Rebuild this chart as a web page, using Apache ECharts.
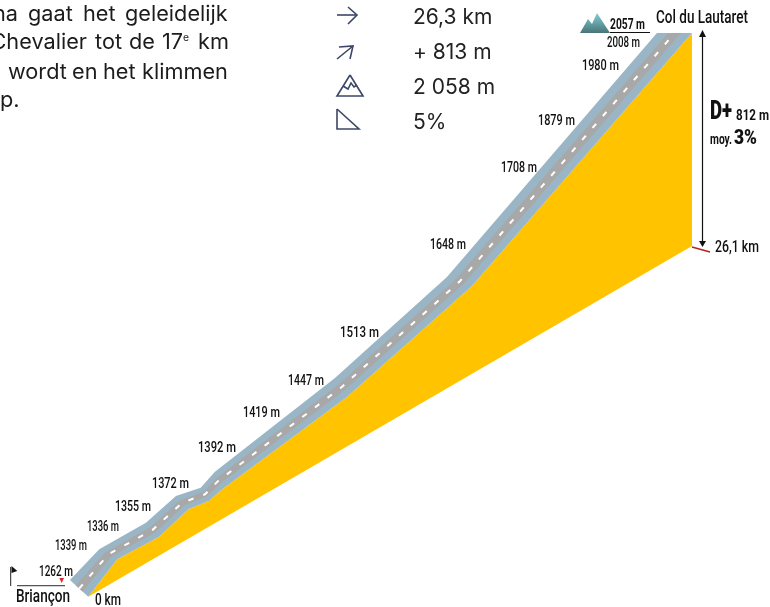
<!DOCTYPE html>
<html><head><meta charset="utf-8">
<style>html,body{margin:0;padding:0;background:#fff}#c{width:770px;height:607px}</style>
<script src="https://cdn.jsdelivr.net/npm/echarts@6/dist/echarts.min.js"></script></head>
<body><div id="c"></div>
<script>
// road ribbon: distance (km) and drawn height (m) of both edges
const upperKm = [-0.778,0.488,2.506,3.802,4.870,5.487,10.672,15.512,24.585];
const upperHeight = [64.9,182.1,283.6,385.5,417.2,478.2,835.9,1221.4,2152.7];
const lowerKm = [0.013,1.266,3.081,4.334,5.241,5.747,11.191,16.592,26.097];
const lowerHeight = [1.1,143.9,230.2,334.7,367.6,407.3,763.4,1187.0,2152.7];
// altitude labels
const labelText = ['1262 m','1339 m','1336 m','1355 m','1372 m','1392 m','1419 m','1447 m','1513 m','1648 m','1708 m','1879 m','1980 m','2008 m'];
const labelKm = [-0.648,-0.043,1.339,2.722,4.364,6.395,8.296,10.197,12.573,16.333,19.400,21.042,22.943,23.851];
const labelHeight = [95.4,194.7,267.2,343.5,431.3,568.7,702.3,824.4,1007.6,1343.5,1637.4,1816.8,2026.7,2114.5];
const labelWide = [34,32,32,36,37,38,37,36,39,36,36,37,37,33];
const totalKm = 26.1, baseHeightEnd = 1340;
const statText = ['26,3 km','+ 813 m','2 058 m','5%'];
const laneFrom = 0.32, laneTo = 0.69;

const narrow = 'Roboto,sans-serif';
const body = 'Inter,sans-serif';
const upper = upperKm.map((k,i)=>[k,upperHeight[i]]);
const lower = lowerKm.map((k,i)=>[k,lowerHeight[i]]);
const lerp = f => upper.map((u,i)=>[u[0]+(lower[i][0]-u[0])*f,u[1]+(lower[i][1]-u[1])*f]);
const laneA = lerp(laneFrom), laneB = lerp(laneTo), centre = lerp((laneFrom+laneTo)/2);
const ribbon = upper.concat(lower.slice().reverse());
const lane = laneA.concat(laneB.slice().reverse());
const yellow = lower.concat([[totalKm,baseHeightEnd]]);

const mctx = document.createElement('canvas').getContext('2d');
function fit(text,size,weight,w){mctx.font=(weight||'normal')+' '+size+'px Roboto';return w/mctx.measureText(text).width;}
function t(text,x,y,size,o,scale){return {type:'text',silent:true,z:20,x:x,y:y,scaleX:scale||1,style:Object.assign({text:text,fontFamily:narrow,fontSize:size,fill:'#111',textVerticalAlign:'middle',textAlign:'left'},o||{})};}
function n(text,x,y,size,w,weight){return t(text,x,y,size,{fontWeight:weight||500},fit(text,size,weight||500,w));}
function b(text,x,y,o){return t(text,x,y,21,Object.assign({fontFamily:body,fill:'#1c1c1c'},o||{}),1.033);}
function pl(points,shape){return {type:'polyline',silent:true,z:20,shape:{points:points},style:Object.assign({stroke:'#3c4668',lineWidth:1.6,fill:null},shape||{})};}

const graphic = [
 b('na',18,15,{textAlign:'right'}),b('gaat',28,15),b('het',83,15),b('geleidelijk',125,15),
 b('Chevalier',87,43,{textAlign:'right'}),b('tot',95,43),b('de',129,43),b('17',162,43),b('e',183,38,{fontSize:10}),b('km',198,43),
 b('s',1,73,{textAlign:'right'}),b('wordt',8,73),b('en',72,73),b('het',103,73),b('klimmen',142,73),
 b('p.',0,101),
 pl([[337,15],[357,15]]),pl([[348,7],[357,15],[348,24]]),
 pl([[337,59],[353,46]]),pl([[339,47],[353,46],[350,59]]),
 pl([[350,75],[337,96],[363,96],[350,75]]),pl([[343,86],[348,89],[351,83],[354,87],[357,85]]),
 pl([[337,109],[337,129],[359,129],[337,109]]),
 t(statText[0],413,18,21,{fontFamily:body,fill:'#222'}),
 t(statText[1],413,53,21,{fontFamily:body,fill:'#222'}),
 t(statText[2],413,88,21,{fontFamily:body,fill:'#222'}),
 t(statText[3],413,123,21,{fontFamily:body,fill:'#222'}),
 {type:'polygon',silent:true,z:20,shape:{points:[[580,33],[588,19],[592,24],[597,13],[610,33]]},
  style:{fill:{type:'linear',x:0,y:0,x2:0,y2:1,colorStops:[{offset:0,color:'#7fd0d4'},{offset:1,color:'#4a7478'}]}}},
 n('2057 m',610,25,14,35,'bold'),
 pl([[610,32.5],[650,32.5]],{stroke:'#111',lineWidth:1}),
 n('Col du Lautaret',656,18,19,92),
 pl([[702.5,35],[702.5,243]],{stroke:'#111',lineWidth:1.2}),
 {type:'polygon',silent:true,z:20,shape:{points:[[702.5,30],[699,37],[706,37]]},style:{fill:'#111'}},
 {type:'polygon',silent:true,z:20,shape:{points:[[702.5,247],[699,241],[706,241]]},style:{fill:'#111'}},
 pl([[692,247],[710,252]],{stroke:'#b3231f',lineWidth:1.5}),
 n('26,1 km',715,248,16,44),
 n('D+',710,113,25,22,900),
 n('812 m',736,116,15,33,'bold'),
 n('moy.',710,140,14,22,'bold'),
 n('3%',734,139,20,23,900),
 pl([[10.7,567],[10.7,586]],{stroke:'#222',lineWidth:1}),
 {type:'polygon',silent:true,z:20,shape:{points:[[11.5,566],[17.3,571],[11.5,573]]},style:{fill:'#111'}},
 pl([[17,585.7],[65,585.7]],{stroke:'#555',lineWidth:1.3}),
 {type:'polygon',silent:true,z:20,shape:{points:[[59.3,578],[64,578],[61.7,583]]},style:{fill:'#e3262e'}},
 n('Briançon',16,597,18,54),
 n('0 km',95,601,16,26)
];

function single(draw,data,z){return {type:'custom',z:z,silent:true,clip:false,data:data,encode:{x:0,y:1},
  renderItem:function(p,api){return p.dataIndex===0?draw(api):null;}};}
const chart = echarts.init(document.getElementById('c'),null,{renderer:'canvas'});
chart.setOption({
 animation:false,
 backgroundColor:'#fff',
 grid:{left:0,right:0,top:33,bottom:0},
 xAxis:{type:'value',min:-3.80,max:29.47,show:false},
 yAxis:{type:'value',min:-38,max:2153,show:false},
 graphic:graphic,
 series:[
  single(api=>({type:'polygon',shape:{points:yellow.map(d=>api.coord(d))},style:{fill:'#FFC300'}}),yellow,1),
  single(api=>({type:'polygon',shape:{points:ribbon.map(d=>api.coord(d))},style:{fill:'#9AB6C6'}}),ribbon,2),
  single(api=>({type:'polygon',shape:{points:lane.map(d=>api.coord(d))},style:{fill:'#A8A8A8'}}),lane,3),
  single(api=>({type:'polyline',shape:{points:centre.map(d=>api.coord(d))},style:{fill:null,stroke:'#fff',lineWidth:2,lineDash:[5.5,10.3]}}),centre,4),
  {type:'custom',z:5,silent:true,clip:false,
   data:labelKm.map((k,i)=>[k,labelHeight[i]]),encode:{x:0,y:1},
   renderItem:function(p,api){const i=p.dataIndex,c=api.coord([api.value(0),api.value(1)]);
     return {type:'text',x:c[0],y:c[1],scaleX:fit(labelText[i],14,500,labelWide[i]),
       style:{text:labelText[i],fontFamily:narrow,fontWeight:500,fontSize:14,fill:'#111',textAlign:'right',textVerticalAlign:'middle'}};}}
 ]
});
</script></body></html>
